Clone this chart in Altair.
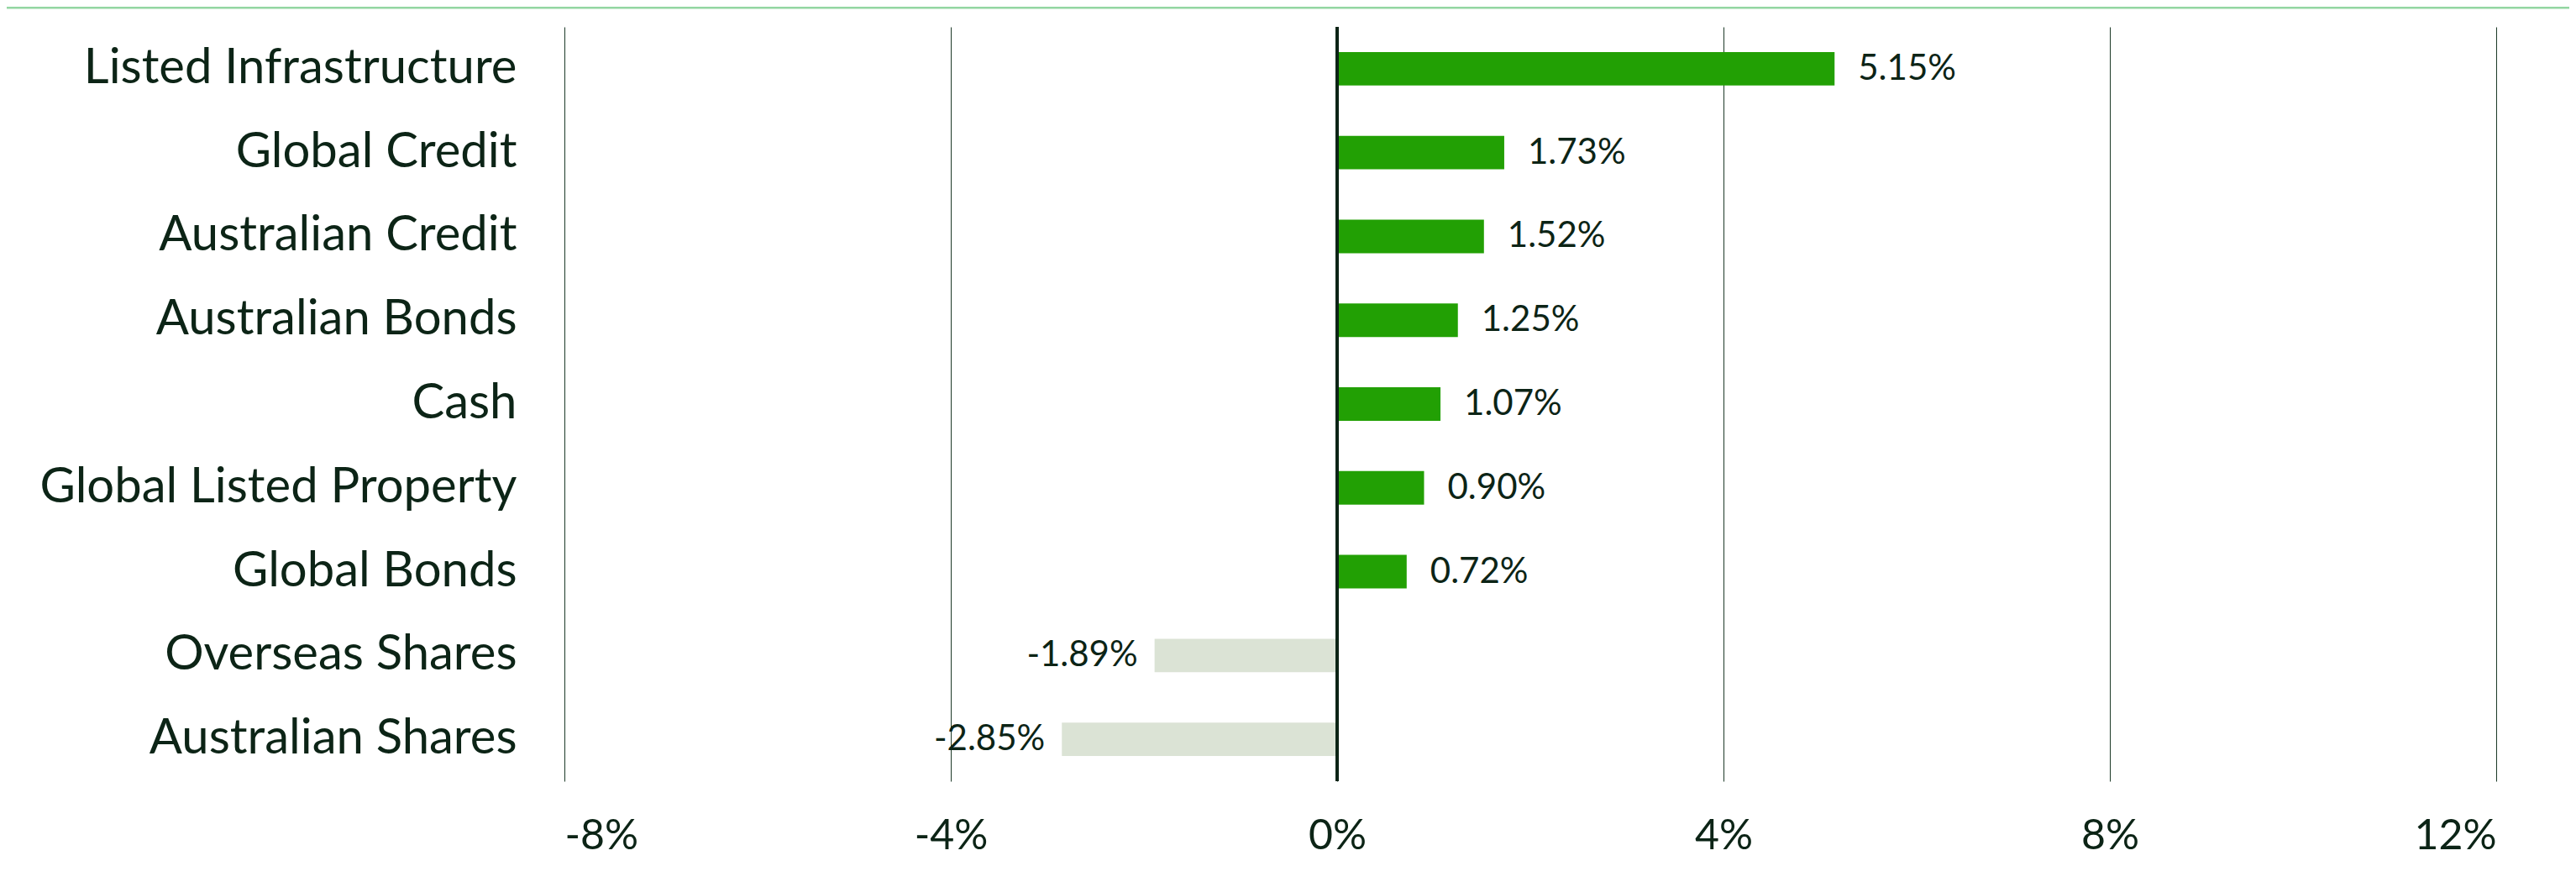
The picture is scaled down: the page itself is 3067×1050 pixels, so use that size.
import altair as alt
import pandas as pd

categories = ["Listed Infrastructure", "Global Credit", "Australian Credit", "Australian Bonds",
              "Cash", "Global Listed Property", "Global Bonds", "Overseas Shares", "Australian Shares"]
values = [5.15, 1.73, 1.52, 1.25, 1.07, 0.90, 0.72, -1.89, -2.85]
x_ticks = [-8, -4, 0, 4, 8, 12]

df = pd.DataFrame({"category": categories, "value": values})

FONT = "Lato"
TEXT = "#0c2416"
GREEN = "#22a004"
LIGHT = "#dbe3d5"

W, H = 2300, 898
PAD = {"left": 664, "top": 24, "right": 87, "bottom": 112}

y_enc = alt.Y("category:N", sort=categories, title=None,
              scale=alt.Scale(paddingInner=0.6, paddingOuter=0.3),
              axis=alt.Axis(domain=False, ticks=False, grid=False, labelFont=FONT,
                            labelFontSize=58, labelColor=TEXT, labelPadding=57,
                            labelLimit=1000))
x_enc = alt.X("value:Q", title=None,
              scale=alt.Scale(domain=[-8, 12], nice=False, zero=False),
              axis=alt.Axis(values=x_ticks, labelExpr="datum.value + '%'", domain=False,
                            ticks=False, grid=True, gridColor="#1d3a28", gridWidth=1,
                            labelFont=FONT, labelFontSize=50, labelColor=TEXT,
                            labelPadding=40))

base = alt.Chart(df)

bars = base.mark_bar().encode(
    y=y_enc,
    x=x_enc,
    x2=alt.datum(0),
    color=alt.condition(alt.datum.value > 0, alt.value(GREEN), alt.value(LIGHT)),
)

label_expr = "replace(format(datum.value, '.2f'), '\u2212', '-') + '%'"

labels_pos = base.transform_filter(alt.datum.value > 0).transform_calculate(
    label=label_expr
).mark_text(align="left", baseline="middle", dx=28, font=FONT, fontSize=42, color=TEXT).encode(
    y=alt.Y("category:N", sort=categories),
    x=alt.X("value:Q"),
    text="label:N",
)

labels_neg = base.transform_filter(alt.datum.value < 0).transform_calculate(
    label=label_expr
).mark_text(align="right", baseline="middle", dx=-20, font=FONT, fontSize=42, color=TEXT).encode(
    y=alt.Y("category:N", sort=categories),
    x=alt.X("value:Q"),
    text="label:N",
)

zero_line = alt.Chart(pd.DataFrame({"z": [0]})).mark_rule(color=TEXT, strokeWidth=4).encode(
    x=alt.X("z:Q"),
)

top_line = alt.Chart(pd.DataFrame({"z": [0]})).mark_rule(color="#93d6a2", strokeWidth=3).encode(
    x=alt.value(-PAD["left"]), x2=alt.value(W + PAD["right"]), y=alt.value(-PAD["top"] + 1),
)

chart = alt.layer(bars, zero_line, labels_pos, labels_neg, top_line).properties(
    width=W, height=H, padding=PAD, autosize=alt.AutoSizeParams(type="none"),
    background="white",
).configure_view(stroke=None)

chart.save("out.html", embed_options={"renderer": "svg", "actions": False})
